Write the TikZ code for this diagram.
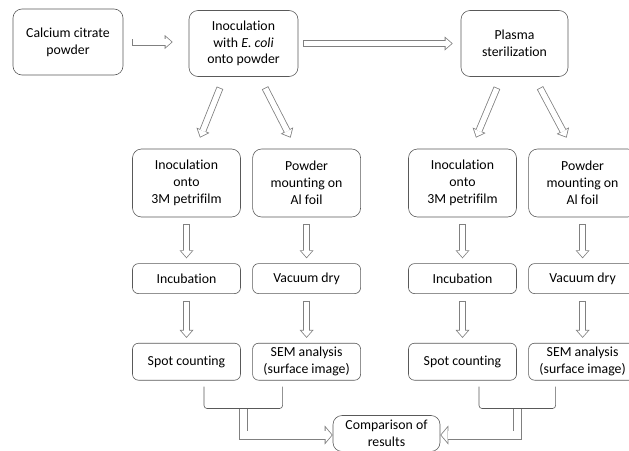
\documentclass[tikz,border=0pt]{standalone}
\usepackage{fontspec}
\setmainfont{Carlito}[Ligatures={NoCommon}]
\usetikzlibrary{arrows.meta, positioning}

\begin{document}
\begin{tikzpicture}[x=1pt, y=-1pt, font=\fontsize{13.8}{16.8}\selectfont,
    box/.style={draw=black!65, line width=0.6pt, rounded corners=9pt, align=center, minimum width=108pt, inner sep=2pt},
    topbox/.style={box, minimum height=66pt},
    tallbox/.style={box, minimum height=68pt},
    flatbox/.style={box, rounded corners=6pt, minimum height=30pt},
    lowbox/.style={box, rounded corners=6pt, minimum height=37pt},
    bracket/.style={draw=black!65, line width=0.6pt, rounded corners=3pt},
    hollow/.style={draw=white, line width=5.4pt, shorten <=0.8pt, shorten >=1.2pt,
        -{Triangle[length=6pt, width=10.5pt, line width=0pt]},
        preaction={draw=black!50, line width=7pt, shorten <=0pt, shorten >=0pt,
            -{Triangle[length=8pt, width=14pt, line width=0pt]}}},
    widehollow/.style={draw=white, line width=7.4pt, shorten <=0.8pt, shorten >=1.05pt,
        -{Triangle[length=6.15pt, width=14.6pt, line width=0pt]},
        preaction={draw=black!50, line width=9pt, shorten <=0pt, shorten >=0pt,
            -{Triangle[length=8pt, width=19pt, line width=0pt]}}}]
    \useasboundingbox (0,0) rectangle (629,450);

    % top row
    \node[topbox, minimum width=110pt] (calcium) at (68,42) {Calcium citrate\\powder};
    \node[topbox, minimum width=109pt] (inoc) at (243.5,43.5) {Inoculation\\with \textit{E. coli}\\onto powder};
    \node[topbox, minimum width=107pt] (plasma) at (514.5,43.5) {Plasma\\sterilization};
    \draw[hollow] ([xshift=9pt]calcium.east) -- ([xshift=-16pt]calcium.east -| inoc.west);
    \draw[hollow] ([xshift=5pt]inoc.east) -- ([xshift=-8pt]inoc.east -| plasma.west);

    % before sterilization
    \node[tallbox] (petriA) at (186.5,183) {Inoculation\\onto\\3M petrifilm};
    \node[tallbox, right=11.5pt of petriA] (foilA) {Powder\\mounting on\\Al foil};
    \node[flatbox, below=46pt of petriA] (incubA) {Incubation};
    \node[flatbox, below=46pt of foilA] (dryA) {Vacuum dry};
    \node[lowbox, below=49pt of incubA] (spotA) {Spot counting};
    \node[lowbox, below=49pt of dryA] (semA) {SEM analysis\\(surface image)};

    % after sterilization
    \node[tallbox] (petriB) at (462.5,183) {Inoculation\\onto\\3M petrifilm};
    \node[tallbox, right=11.5pt of petriB] (foilB) {Powder\\mounting on\\Al foil};
    \node[flatbox, below=46pt of petriB] (incubB) {Incubation};
    \node[flatbox, below=46pt of foilB] (dryB) {Vacuum dry};
    \node[lowbox, below=49pt of incubB] (spotB) {Spot counting};
    \node[lowbox, below=49pt of dryB] (semB) {SEM analysis\\(surface image)};

    \node[box, minimum width=107pt, minimum height=36pt] (comp) at (386.5,433.5) {Comparison of\\results};

    % splitting
    \draw[hollow] ([shift={(-23.5pt,-11pt)}]inoc.south) -- ([shift={(13.5pt,11pt)}]petriA.north);
    \draw[hollow] ([shift={(21.5pt,-11pt)}]inoc.south) -- ([shift={(-16pt,11pt)}]foilA.north);
    \draw[hollow] ([shift={(-17.5pt,-11pt)}]plasma.south) -- ([shift={(13.5pt,11pt)}]petriB.north);
    \draw[hollow] ([shift={(25.5pt,-11pt)}]plasma.south) -- ([shift={(-16pt,11pt)}]foilB.north);

    % steps
    \draw[hollow] ([yshift=-7pt]petriA.south) -- ([yshift=5pt]incubA.north);
    \draw[hollow] ([yshift=-7pt]incubA.south) -- ([yshift=5pt]spotA.north);
    \draw[hollow] ([yshift=-7pt]foilA.south) -- ([yshift=5pt]dryA.north);
    \draw[hollow] ([yshift=-7pt]dryA.south) -- ([yshift=5pt]semA.north);
    \draw[hollow] ([yshift=-7pt]petriB.south) -- ([yshift=5pt]incubB.north);
    \draw[hollow] ([yshift=-7pt]incubB.south) -- ([yshift=5pt]spotB.north);
    \draw[hollow] ([yshift=-7pt]foilB.south) -- ([yshift=5pt]dryB.north);
    \draw[hollow] ([yshift=-7pt]dryB.south) -- ([yshift=5pt]semB.north);

    % joining
    \draw[bracket] ([shift={(17.5pt,-6pt)}]spotA.south) -- ++(0,22) -| coordinate[pos=0.25] (midA) ([shift={(-24pt,-6pt)}]semA.south);
    \draw[bracket] ([shift={(16.5pt,-6pt)}]spotB.south) -- ++(0,22) -| coordinate[pos=0.25] (midB) ([shift={(-27pt,-6pt)}]semB.south);
    \draw[widehollow] (midA) |- ([yshift=-1.5pt]comp.west);
    \draw[widehollow] (midB) |- ([yshift=-1.5pt]comp.east);
\end{tikzpicture}
\end{document}
